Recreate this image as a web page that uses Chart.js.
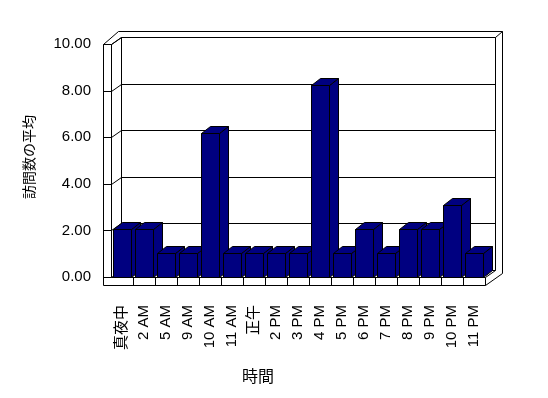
<!DOCTYPE html>
<html lang="ja">
  <head>
    <meta charset="utf-8" />
    <title>時間別の訪問数の平均</title>
    <script src="https://cdn.jsdelivr.net/npm/chart.js@4.4.0/dist/chart.umd.min.js"></script>
    <style>
      body {
        margin: 0;
        background: #fff;
      }
      canvas {
        display: block;
      }
    </style>
  </head>
  <body>
    <canvas id="visitChart" width="548" height="398"></canvas>

    <script>
      // --------------- Daten ---------------------------------------------
      const hours = [
        "真夜中", "2 AM", "5 AM", "9 AM", "10 AM", "11 AM", "正午", "2 PM",
        "3 PM", "4 PM", "5 PM", "6 PM", "7 PM", "8 PM", "9 PM", "10 PM", "11 PM",
      ];
      const avgVisits = [2, 2, 1, 1, 6, 1, 1, 1, 1, 8, 1, 2, 1, 2, 2, 3, 1];
      const yTicks = [0, 2, 4, 6, 8, 10];
      const xTitle = "時間";
      const yTitle = "訪問数の平均";

      // --------------- 3D-Optik ------------------------------------------
      const BAR_DX = 9, BAR_DY = 7;   // Tiefe der Säulen
      const WALL_DX = 10, WALL_DY = 7; // Tiefe der Rückwand
      const NAVY = "#000080";
      const LATIN = "'Liberation Sans', 'Noto Sans CJK JP', sans-serif";

      const px = (v) => Math.round(v) + 0.5;

      function path(ctx, pts, close) {
        ctx.beginPath();
        pts.forEach(([x, y], i) => (i ? ctx.lineTo(px(x), px(y)) : ctx.moveTo(px(x), px(y))));
        if (close) ctx.closePath();
      }

      // Wert -> y auf der vorderen Wandkante (Achsenbeschriftung)
      function frontY(chart, v) {
        const { top: T, bottom: B } = chart.chartArea;
        const p = chart.scales.y.getPixelForValue(v);
        return T + ((p - T) * (B - WALL_DY - T)) / (B - T) + WALL_DY;
      }

      const box3d = {
        id: "box3d",
        beforeDatasetsDraw(chart) {
          const { ctx, chartArea: a, scales } = chart;
          const L = a.left, R = a.right, T = a.top, B = a.bottom;
          ctx.save();
          ctx.strokeStyle = "#000";
          ctx.lineWidth = 1;
          const line = (pts) => { path(ctx, pts); ctx.stroke(); };

          // Wände und Boden
          line([[L - 8, T + WALL_DY], [L - 8, B + 8], [R, B + 8], [R, B], [L, B]]);
          line([[L, T + WALL_DY], [L, B]]);
          line([[L - 8, T + WALL_DY], [L, T + WALL_DY], [L + WALL_DX, T]]);
          line([[L - 8, T + WALL_DY], [L + 7, T - 6], [R + 17, T - 6], [R + 17, B - 4], [R, B + 8]]);
          line([[L + WALL_DX, B - WALL_DY], [L + WALL_DX, T], [R + WALL_DX, T], [R + WALL_DX, B - WALL_DY], [R, B]]);
          line([[R + WALL_DX, T], [R + 17, T - 6]]);

          // Gitternetz + Achsenbeschriftung
          ctx.fillStyle = "#000";
          ctx.font = "15px " + LATIN;
          ctx.textAlign = "right";
          ctx.textBaseline = "middle";
          scales.y.ticks.forEach((t) => {
            const f = frontY(chart, t.value);
            line([[L - 8, f], [L, f], [L + WALL_DX, f - WALL_DY], [R + WALL_DX, f - WALL_DY]]);
            ctx.fillText(t.value.toFixed(2), L - 20, f);
          });

          // Kategorie-Trenner auf der Bodenkante
          const x = scales.x;
          for (let i = 1; i < hours.length; i++) {
            const bx = (x.getPixelForTick(i - 1) + x.getPixelForTick(i)) / 2;
            line([[bx, B], [bx, B + 8]]);
          }

          // Säulen
          ctx.fillStyle = NAVY;
          chart.getDatasetMeta(0).data.forEach((bar) => {
            const { x: cx, y: top, base, width } = bar.getProps(["x", "y", "base", "width"], true);
            const l = cx - width / 2, r = cx + width / 2;
            path(ctx, [[r, top], [r + BAR_DX, top - BAR_DY], [r + BAR_DX, base - BAR_DY], [r, base]], true);
            ctx.fill(); ctx.stroke();
            path(ctx, [[l, top], [r, top], [r + BAR_DX, top - BAR_DY], [l + BAR_DX, top - BAR_DY]], true);
            ctx.fill(); ctx.stroke();
            path(ctx, [[l, top], [r, top], [r, base], [l, base]], true);
            ctx.fill(); ctx.stroke();
          });

          // x-Achsentitel
          ctx.font = "16px 'Noto Sans CJK JP', sans-serif";
          ctx.textAlign = "center";
          ctx.fillStyle = "#000";
          ctx.fillText(xTitle, 258, 376);
          ctx.restore();
          return false; // Standard-Balken nicht zeichnen
        },
      };

      new Chart(document.getElementById("visitChart"), {
        type: "bar",
        data: {
          labels: hours,
          datasets: [
            {
              label: yTitle,
              data: avgVisits,
              backgroundColor: NAVY,
              categoryPercentage: 1,
              barPercentage: 0.79,
            },
          ],
        },
        options: {
          responsive: false,
          animation: false,
          layout: { padding: { top: 37, right: 63, left: 0, bottom: 0 } },
          plugins: { legend: { display: false }, tooltip: { enabled: false } },
          scales: {
            x: {
              grid: { display: false },
              border: { display: false },
              afterFit: (s) => { s.height = 121; },
              ticks: {
                autoSkip: false,
                minRotation: 90,
                maxRotation: 90,
                padding: 20,
                color: "#000",
                font: { family: LATIN, size: 15 },
              },
            },
            y: {
              min: 0,
              max: 10,
              afterBuildTicks: (s) => { s.ticks = yTicks.map((v) => ({ value: v })); },
              afterFit: (s) => { s.width = 111; },
              grid: { display: false },
              border: { display: false },
              ticks: { display: false },
              title: {
                display: true,
                text: yTitle,
                color: "#000",
                padding: { top: 20, bottom: 0 },
                font: { family: "'Noto Sans CJK JP', sans-serif", size: 14 },
              },
            },
          },
        },
        plugins: [box3d],
      });
    </script>
  </body>
</html>
